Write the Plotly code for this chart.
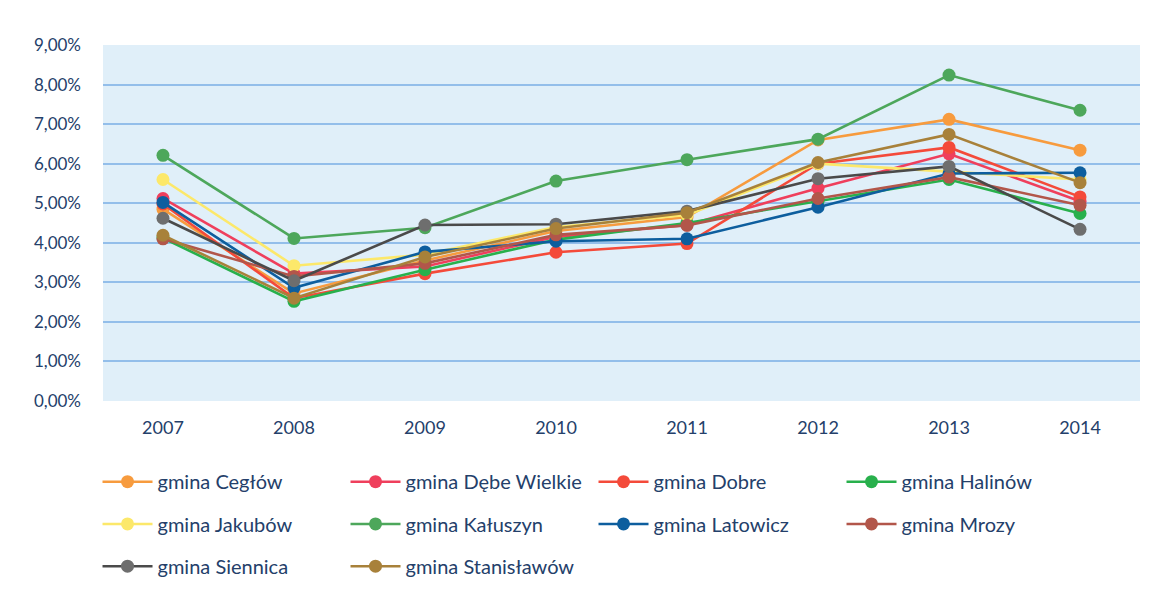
import plotly.graph_objects as go

# Lata
years = ["2007", "2008", "2009", "2010", "2011", "2012", "2013", "2014"]

# Wartości w %
ceglow = [4.85, 2.72, 3.55, 4.30, 4.65, 6.60, 7.12, 6.34]
debe_wielkie = [5.12, 3.22, 3.40, 4.15, 4.45, 5.38, 6.25, 5.05]
dobre = [4.98, 2.60, 3.22, 3.76, 3.98, 6.00, 6.41, 5.16]
halinow = [4.12, 2.52, 3.32, 4.08, 4.50, 5.05, 5.60, 4.74]
jakubow = [5.60, 3.42, 3.70, 4.40, 4.70, 6.00, 5.80, 5.60]
kaluszyn = [6.21, 4.11, 4.38, 5.56, 6.10, 6.62, 8.24, 7.35]
latowicz = [5.02, 2.86, 3.77, 4.04, 4.10, 4.90, 5.75, 5.77]
mrozy = [4.10, 3.15, 3.48, 4.20, 4.44, 5.12, 5.66, 4.95]
siennica = [4.62, 3.04, 4.45, 4.47, 4.80, 5.62, 5.93, 4.34]
stanislawow = [4.19, 2.60, 3.64, 4.36, 4.76, 6.03, 6.74, 5.52]

names = [
    "gmina Cegłów", "gmina Dębe Wielkie", "gmina Dobre", "gmina Halinów",
    "gmina Jakubów", "gmina Kałuszyn", "gmina Latowicz", "gmina Mrozy",
    "gmina Siennica", "gmina Stanisławów",
]
series = [ceglow, debe_wielkie, dobre, halinow, jakubow,
          kaluszyn, latowicz, mrozy, siennica, stanislawow]
line_colors = ["#F79B3E", "#EF3F5C", "#F44A3A", "#28B04C", "#FCE86A",
               "#4DA75B", "#0D5E9E", "#B2564A", "#4A4A4A", "#A8813A"]
marker_colors = ["#F79B3E", "#EF3F5C", "#F44A3A", "#28B04C", "#FCE86A",
                 "#4DA75B", "#0D5E9E", "#B2564A", "#6E6E6E", "#A8813A"]

# 4 pozycje w wierszu legendy, każdy wiersz osobną legendą
legend_ids = ["legend", "legend", "legend", "legend",
              "legend2", "legend2", "legend2", "legend2",
              "legend3", "legend3"]

text_color = "#24406A"

fig = go.Figure()
for name, vals, lc, mc, lg in zip(names, series, line_colors, marker_colors, legend_ids):
    fig.add_trace(go.Scatter(
        x=years, y=vals, mode="lines+markers", name=name,
        line=dict(color=lc, width=2.6),
        marker=dict(color=mc, size=13),
        legend=lg,
    ))

# legendy liczone względem całej strony, żeby nie przesuwały marginesów
legend_common = dict(
    orientation="h", xanchor="left", yanchor="middle",
    xref="container", yref="container",
    entrywidth=183, entrywidthmode="pixels",
    font=dict(size=20, color=text_color, family="Lato"),
    bgcolor="rgba(0,0,0,0)", itemwidth=50,
)

# strona html ma 8px marginesu, stąd mniejsze marginesy l/t
fig.update_layout(
    width=1155, height=591,
    margin=dict(l=95, r=23, t=37, b=198),
    paper_bgcolor="white", plot_bgcolor="#E0EFF9",
    font=dict(family="Lato", size=17, color=text_color),
    separators=", ",
    showlegend=True,
    legend=dict(x=0.0775, y=0.1985, **legend_common),
    legend2=dict(x=0.0775, y=0.1270, **legend_common),
    legend3=dict(x=0.0775, y=0.0555, **legend_common),
    xaxis=dict(
        type="category", showgrid=False, zeroline=False, showline=False,
        ticks="", tickfont=dict(size=18, color=text_color),
        ticklabelstandoff=14,
    ),
    yaxis=dict(
        range=[0, 9], dtick=1, tickformat=".2f", ticksuffix="%",
        showgrid=True, gridcolor="#93BEEA", gridwidth=1.6,
        zeroline=False, showline=False, ticks="",
        tickfont=dict(size=17, color=text_color),
        ticklabelstandoff=21,
    ),
)

fig.write_html("out.html")
